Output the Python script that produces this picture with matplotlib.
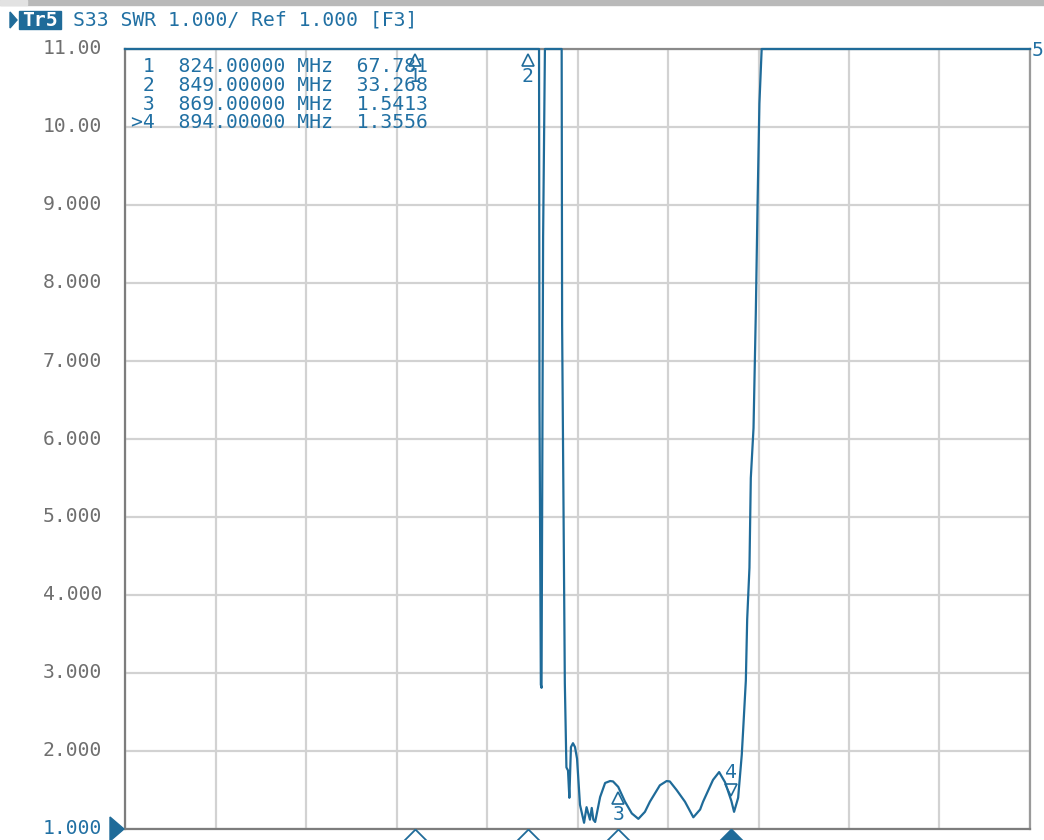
import matplotlib
matplotlib.use("Agg")
import matplotlib.pyplot as plt
from matplotlib.patches import Rectangle, Polygon
import numpy as np

# ---------------- data ----------------
freq_mhz = [760.0, 851.5, 851.6, 851.9, 852.05, 852.4, 852.8,
            856.5, 856.6, 856.9, 857.2, 857.55, 857.9, 858.2, 858.55, 859.0, 859.45, 859.9,
            860.55, 861.45, 862.0, 862.75, 863.15, 863.5, 863.9,
            865.0, 866.1, 867.2, 867.85, 869.0, 870.5, 872.0, 873.45,
            874.9, 876.0, 878.2, 879.7, 880.4, 881.9, 883.75, 885.6,
            887.1, 887.75, 889.95, 891.3, 892.6, 894.0, 894.6,
            895.5, 896.3, 896.6, 897.2, 897.5, 898.0, 898.3, 898.9, 899.4, 899.8, 900.2, 900.7, 960.0]
swr = [11.0, 11.0, 6.46, 2.85, 2.81, 8.59, 11.0,
       11.0, 7.46, 5.19, 2.87, 1.79, 1.75, 1.40, 2.05, 2.10, 2.05, 1.90,
       1.31, 1.08, 1.28, 1.12, 1.27, 1.12, 1.09,
       1.41, 1.59, 1.615, 1.61, 1.54, 1.35, 1.20, 1.13,
       1.22, 1.35, 1.56, 1.615, 1.61, 1.50, 1.35, 1.15,
       1.25, 1.35, 1.63, 1.73, 1.60, 1.36, 1.22,
       1.40, 1.95, 2.26, 2.90, 3.69, 4.35, 5.50, 6.14, 7.60, 9.04, 10.3, 11.0, 11.0]

marker_ids = ["1", "2", "3", "4"]
marker_freq = [824.0, 849.0, 869.0, 894.0]
marker_value = ["67.781", "33.268", "1.5413", "1.3556"]
marker_disp = [11.0, 11.0, 1.5413, 1.3556]   # displayed (clipped) position

ytick_vals = [1, 2, 3, 4, 5, 6, 7, 8, 9, 10, 11]
ytick_labels = ["1.000", "2.000", "3.000", "4.000", "5.000", "6.000",
                "7.000", "8.000", "9.000", "10.00", "11.00"]
x_start, x_stop = 760.0, 960.0
title_text = "S33 SWR 1.000/ Ref 1.000 [F3]"
trace_name = "Tr5"

# ---------------- style ----------------
W, H = 1044, 840
TRACE = "#1f6b99"
BLUE = "#2170a3"
GRAY_TXT = "#6f6f6f"
GRID = "#d2d2d2"
FRAME = "#7d7d7d"
FONT = "DejaVu Sans Mono"
FS = 14.2

def fx(x): return x / W
def fy(y): return 1 - y / H

fig = plt.figure(figsize=(W / 100, H / 100), dpi=100)
fig.patch.set_facecolor("white")

L, R, T, B = 125, 1030, 49, 829
ax = fig.add_axes([fx(L), fy(B), (R - L) / W, (B - T) / H])
ax.set_xlim(x_start, x_stop)
ax.set_ylim(1, 11)

# grid
ax.set_xticks(np.arange(x_start, x_stop + 1, 20))
ax.set_yticks(ytick_vals)
ax.grid(True, color=GRID, lw=1.6)
ax.tick_params(axis="both", length=0)
ax.set_xticklabels([])
ax.set_yticklabels([])
for s in ["left", "bottom", "right", "top"]:
    ax.spines[s].set_color(FRAME)
    ax.spines[s].set_linewidth(1.6)
ax.spines["right"].set_color("#9a9a9a")
ax.spines["top"].set_color("#8a8a8a")

# trace
ax.plot(freq_mhz, np.clip(swr, 1, 11), color=TRACE, lw=1.6, zorder=3, clip_on=False)

# y tick labels
for v, lab in zip(ytick_vals, ytick_labels):
    col = BLUE if v == 1 else GRAY_TXT
    ax.text(-23, v, lab, transform=ax.get_yaxis_transform() if False else ax.transData,
            fontsize=FS, family=FONT, color=col, ha="right", va="center", clip_on=False)
# fix: place labels in pixel offset from axes left using blended transform
for t in list(ax.texts):
    t.remove()
import matplotlib.transforms as mtrans
off = mtrans.offset_copy(ax.get_yaxis_transform(), fig=fig, x=-23, y=0, units="dots")
for v, lab in zip(ytick_vals, ytick_labels):
    col = BLUE if v == 1 else GRAY_TXT
    ax.text(0, v, lab, transform=off, fontsize=FS, family=FONT, color=col,
            ha="right", va="center", clip_on=False)

# reference position triangle at left bottom
fig.patches.append(Polygon([(fx(110), fy(817)), (fx(124), fy(829)), (fx(110), fy(841))],
                           closed=True, transform=fig.transFigure, color=TRACE))

# bottom marker triangles (stimulus markers)
bx = ax.get_xaxis_transform()
for i, f in enumerate(marker_freq):
    filled = (i == len(marker_freq) - 1)
    ax.plot([f], [-7 / (B - T)], marker=[(0, 0.5), (-1, -0.5), (1, -0.5), (0, 0.5)],
            markersize=20, transform=bx, clip_on=False,
            mfc=TRACE if filled else "white", mec=TRACE, mew=1.3, zorder=5)

# markers on trace
for mid, f, v in zip(marker_ids, marker_freq, marker_disp):
    if mid == "4":
        # number above, down-pointing triangle
        ax.annotate("", xy=(f, v), xytext=(0, 0), textcoords="offset points")
        ax.plot([f], [v], marker="v", markersize=9, mfc="none", mec=TRACE, mew=1.2,
                transform=mtrans.offset_copy(ax.transData, fig=fig, x=0, y=11, units="dots"),
                clip_on=False, zorder=6)
        ax.text(f, v, mid, transform=mtrans.offset_copy(ax.transData, fig=fig, x=0, y=29, units="dots"),
                fontsize=FS, family=FONT, color=BLUE, ha="center", va="center", zorder=6)
    else:
        ax.plot([f], [v], marker="^", markersize=9, mfc="none", mec=TRACE, mew=1.2,
                transform=mtrans.offset_copy(ax.transData, fig=fig, x=0, y=-11, units="dots"),
                clip_on=False, zorder=6)
        ax.text(f, v, mid, transform=mtrans.offset_copy(ax.transData, fig=fig, x=0, y=-28, units="dots"),
                fontsize=FS, family=FONT, color=BLUE, ha="center", va="center", zorder=6)

# marker table
rows_y = [67, 85.5, 104, 122.5]
for k, (mid, f, val) in enumerate(zip(marker_ids, marker_freq, marker_value)):
    prefix = ">" if k == len(marker_ids) - 1 else " "
    s = f"{prefix}{mid}  {f:.5f} MHz  {val}"
    fig.text(fx(131), fy(rows_y[k]), s, fontsize=FS, family=FONT, color=BLUE,
             ha="left", va="center")

# trace number at right end
fig.text(fx(1032), fy(50), "5", fontsize=FS, family=FONT, color=BLUE, ha="left", va="center")

# header
fig.patches.append(Rectangle((0, fy(5)), fx(W), 5 / H, transform=fig.transFigure,
                             color="#b9b9b9", zorder=0))
fig.patches.append(Rectangle((0, fy(5)), fx(27), 5 / H, transform=fig.transFigure,
                             color="#e2e2e2", zorder=0))
fig.patches.append(Polygon([(fx(10), fy(12)), (fx(17), fy(20)), (fx(10), fy(28))],
                           closed=True, transform=fig.transFigure, color=TRACE))
fig.patches.append(Rectangle((fx(19), fy(29)), 42 / W, 18 / H, transform=fig.transFigure,
                             color=TRACE))
fig.text(fx(40), fy(20), trace_name, fontsize=FS, family=FONT, color="white",
         ha="center", va="center", fontweight="bold")
fig.text(fx(73), fy(20), title_text, fontsize=FS, family=FONT, color=BLUE,
         ha="left", va="center")

fig.savefig("out.png", dpi=100)
